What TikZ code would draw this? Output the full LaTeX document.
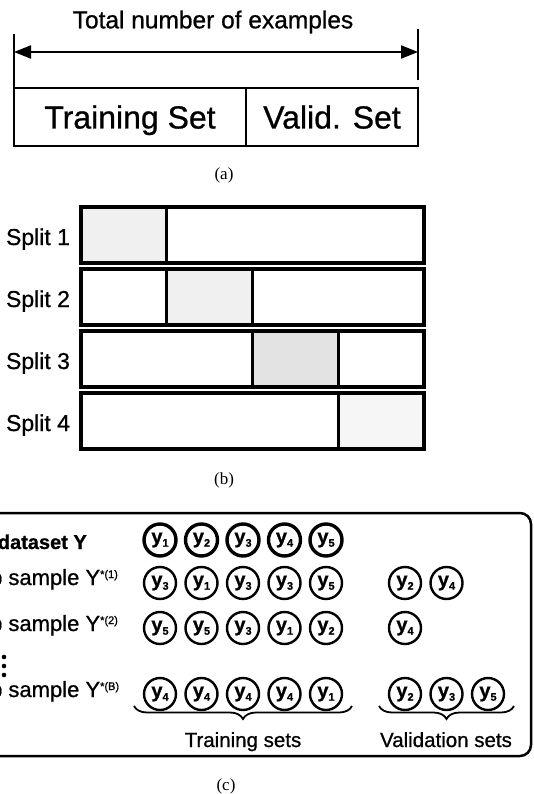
\documentclass[tikz,border=0pt]{standalone}
\usepackage{fontspec}
\setmainfont{Liberation Sans}[FakeBold=0.8]
\newfontfamily\capfont{Liberation Serif}
\usetikzlibrary{arrows.meta,decorations.pathreplacing}
\newcommand\fsz[1]{\fontsize{#1}{#1}\selectfont}
\newcommand\ylab[1]{{\fsz{20}\bfseries y}\raisebox{-3.5pt}{\fsz{11}\bfseries #1}}
\begin{document}
\begin{tikzpicture}[x=1pt,y=-1pt,
  cellA/.style={draw,line width=2.4pt,inner sep=0pt,minimum height=58pt,text height=23pt,text depth=0pt,font=\fsz{32}},
  tickline/.style={line width=2pt},
  dimarrow/.style={line width=2pt,{Triangle[length=17pt,width=13pt]}-{Triangle[length=17pt,width=13pt]}},
  rowbox/.style={draw,line width=3.2pt,inner sep=0pt,minimum width=343pt,minimum height=56pt},
  valcell/.style={draw,line width=3.2pt,inner sep=0pt,minimum width=85.75pt,minimum height=56pt},
  splitlbl/.style={anchor=base,inner sep=0pt,font=\fsz{23}},
  caption/.style={inner sep=0pt,font=\capfont\fsz{17}},
  frame/.style={draw,line width=2.5pt,rounded corners=11pt,inner sep=0pt,minimum width=551pt,minimum height=243pt},
  yc/.style={draw,circle,inner sep=0pt,minimum size=32pt,line width=2.4pt},
  ycb/.style={yc,line width=3.4pt},
  rowlbl/.style={anchor=base west,inner sep=0pt,font=\fsz{22}},
  setlbl/.style={anchor=base,inner sep=0pt,font=\fsz{20.5}},
  bracedeco/.style={line width=1.8pt,decorate,decoration={brace,mirror,amplitude=13pt}},
  dot/.style={circle,fill,inner sep=0pt,minimum size=4.6pt}]
\useasboundingbox (0,0) rectangle (534,794);
\clip (0,0) rectangle (534,794);

% ---------- (a)
\node[inner sep=0pt,font=\fsz{24.5}] (title) at (213,22) {Total number of examples};
\coordinate (lt) at (14,34);
\coordinate (lb) at (14,88);
\coordinate (rt) at (418,29);
\coordinate (rb) at (418,80);
\coordinate (la) at (14,52);
\coordinate (ra) at (418,52);
\draw[tickline] (lt) -- (lb);
\draw[tickline] (rt) -- (rb);
\draw[dimarrow] (la) -- (ra);
\node[cellA,minimum width=232pt] (train) at (130,117) {Training Set};
\node[cellA,minimum width=172pt] (valid) at (332,117) {Valid. Set};
\node[caption] (capa) at (224,175) {(a)};

% ---------- (b)
\foreach \r/\sh in {1/12,2/12,3/22,4/7} {
  \pgfmathsetmacro\yc{235+(\r-1)*62}
  \pgfmathsetmacro\xv{81+(\r-0.5)*85.75}
  \node[rowbox] (row\r) at (252.5,\yc) {};
  \node[valcell,fill=gray!\sh] (v\r) at (\xv,\yc) {};
  \node[splitlbl] (sl\r) at (38,\yc+10) {Split \r};
}
\node[caption] (capb) at (224,480) {(b)};

% ---------- (c)
\node[frame] (box) at (255.5,634.5) {};
\node[anchor=base east,inner sep=0pt,font=\fsz{20}\bfseries] (l0) at (87,549) {Original dataset Y};
\node[rowlbl] (l1) at (-92,585) {Bootstrap sample Y\raisebox{7pt}{\fsz{11}*(1)}};
\node[rowlbl] (l2) at (-92,631) {Bootstrap sample Y\raisebox{7pt}{\fsz{11}*(2)}};
\node[rowlbl] (l3) at (-92,697) {Bootstrap sample Y\raisebox{7pt}{\fsz{11}*(B)}};
\node[dot] (d1) at (4,657) {};
\node[dot] (d2) at (4,666) {};
\node[dot] (d3) at (4,675) {};

\foreach \v [count=\i] in {1,2,3,4,5}
  \node[ycb] (o\i) at ({118.5+41.5*\i},540) {\ylab{\v}};
\foreach \v [count=\i] in {3,1,3,3,5}
  \node[yc] (a\i) at ({118.5+41.5*\i},583) {\ylab{\v}};
\foreach \v [count=\i] in {2,4}
  \node[yc] (av\i) at ({363.5+41.5*\i},583) {\ylab{\v}};
\foreach \v [count=\i] in {5,5,3,1,2}
  \node[yc] (b\i) at ({118.5+41.5*\i},628) {\ylab{\v}};
\foreach \v [count=\i] in {4}
  \node[yc] (bv\i) at ({363.5+41.5*\i},628) {\ylab{\v}};
\foreach \v [count=\i] in {4,4,4,4,1}
  \node[yc] (c\i) at ({118.5+41.5*\i},694) {\ylab{\v}};
\foreach \v [count=\i] in {2,3,5}
  \node[yc] (cv\i) at ({363.5+41.5*\i},694) {\ylab{\v}};

\coordinate (tb1) at (134,706);
\coordinate (tb2) at (352,706);
\coordinate (vb1) at (379,706);
\coordinate (vb2) at (514,706);
\draw[bracedeco] (tb1) -- (tb2);
\draw[bracedeco] (vb1) -- (vb2);
\node[setlbl] (tsl) at (243,747) {Training sets};
\node[setlbl] (vsl) at (446,747) {Validation sets};
\node[caption] (capc) at (226,786) {(c)};
\end{tikzpicture}
\end{document}
